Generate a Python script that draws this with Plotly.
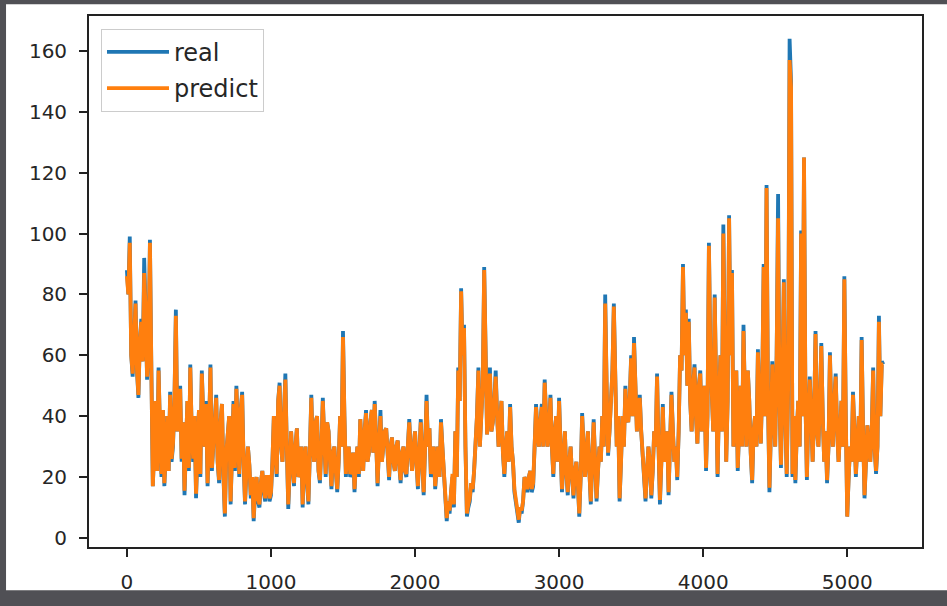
import plotly.graph_objects as go

# time step of each sample (every 10th step)
time_index = list(range(0, 5260, 10))

real = [
    88, 80, 99, 60, 53, 70, 78, 55, 46, 65, 72, 58, 92, 75, 52, 62, 98, 55, 17, 30, 45, 22, 56, 35, 20, 42, 17, 28, 40, 22,
    48, 25, 30, 45, 75, 35, 40, 50, 25, 38, 14, 30, 45, 22, 57, 35, 25, 40, 13, 28, 42, 20, 55, 40, 30, 45, 17, 35, 57, 22,
    30, 40, 47, 25, 18, 38, 44, 20, 7, 28, 35, 40, 11, 25, 45, 22, 50, 35, 20, 42, 48, 25, 11, 22, 30, 24, 13, 20, 5.5, 15,
    20, 12, 10, 18, 22, 15, 12, 20, 20, 12, 14, 25, 40, 28, 20, 45, 51, 30, 25, 40, 54, 30, 9.5, 22, 35, 25, 17, 30, 36, 20,
    22, 30, 10, 25, 30, 18, 11, 28, 47, 30, 25, 38, 40, 22, 18, 30, 46, 32, 20, 38, 35, 25, 16, 28, 30, 22, 15, 25, 40, 30,
    68, 40, 20, 28, 30, 20, 22, 28, 15, 25, 30, 20, 39, 30, 22, 35, 42, 25, 28, 38, 42, 28, 45, 32, 17, 30, 42, 25, 30, 35,
    36, 28, 19, 30, 33, 25, 22, 30, 32, 24, 18, 28, 30, 22, 20, 30, 39, 28, 22, 30, 35, 25, 16, 28, 39, 25, 14, 30, 47, 30,
    36, 20, 25, 30, 16, 25, 30, 20, 39, 30, 20, 10, 5.5, 12, 8, 15, 20, 10, 35, 20, 56, 45, 82, 60, 70, 30, 7, 10, 12, 18,
    15, 22, 30, 40, 56, 30, 40, 50, 89, 55, 34, 45, 56, 35, 38, 45, 55, 40, 30, 38, 45, 28, 20, 30, 35, 25, 44, 30, 25, 15,
    12, 8, 5, 10, 8, 12, 20, 18, 15, 20, 22, 15, 17, 30, 44, 35, 30, 38, 44, 30, 52, 40, 30, 35, 47, 30, 20, 35, 40, 25,
    46, 30, 15, 25, 35, 22, 14, 25, 30, 20, 13, 22, 25, 18, 7, 20, 41, 30, 20, 28, 35, 22, 11, 25, 39, 25, 12, 22, 30, 25,
    40, 30, 80, 50, 27, 35, 45, 55, 77, 50, 30, 40, 12, 25, 40, 30, 50, 40, 38, 45, 60, 40, 66, 50, 35, 40, 47, 35, 28, 20,
    12, 22, 30, 25, 13, 22, 35, 30, 54, 30, 11, 25, 44, 25, 30, 35, 14, 30, 48, 35, 25, 30, 19, 35, 60, 55, 90, 60, 75, 50,
    72, 45, 35, 50, 57, 40, 31, 50, 55, 35, 40, 50, 22, 40, 97, 60, 45, 35, 80, 40, 20, 45, 60, 35, 103, 60, 25, 45, 106, 60,
    88, 30, 40, 55, 22, 35, 50, 30, 70, 45, 30, 55, 45, 28, 18, 35, 40, 30, 62, 45, 31, 50, 90, 40, 116, 45, 15, 35, 58, 40,
    30, 60, 113, 45, 23, 50, 85, 40, 20, 50, 164, 150, 20, 40, 18, 35, 45, 30, 101, 40, 125, 45, 19, 40, 53, 40, 25, 40, 68, 35,
    30, 45, 64, 40, 25, 35, 18, 30, 61, 40, 30, 45, 54, 35, 25, 35, 45, 30, 86, 40, 7, 20, 30, 25, 48, 35, 20, 30, 40, 25,
    66, 35, 13, 25, 37, 30, 25, 35, 56, 30, 21, 30, 73, 40, 58, 57,
]

predict = [
    86, 80, 97, 60, 54, 70, 77, 55, 47, 65, 71, 58, 87, 75, 53, 62, 97, 55, 17, 30, 45, 22, 55, 35, 21, 42, 18, 28, 40, 22,
    47, 26, 31, 45, 73, 35, 40, 49, 26, 38, 15.5, 30, 45, 23, 56, 35, 26, 40, 14.5, 28, 42, 21, 54, 40, 30, 44, 18, 35, 56, 23,
    30, 40, 46, 25, 19, 38, 44, 21, 8, 28, 35, 40, 12, 25, 44, 23, 49, 35, 21, 42, 47, 25, 12, 22, 30, 24, 14, 20, 6.5, 16,
    20, 13, 11, 18, 22, 16, 13, 20, 20, 13, 15, 25, 40, 28, 21, 45, 50, 30, 25, 40, 52, 30, 11, 22, 35, 25, 18, 30, 36, 20,
    22, 30, 11, 25, 30, 19, 12, 28, 46, 30, 25, 38, 40, 22, 19, 30, 45, 32, 21, 38, 35, 25, 17, 28, 30, 22, 16, 25, 40, 30,
    66, 40, 21, 28, 30, 21, 22, 28, 16, 25, 30, 21, 39, 30, 22, 35, 41, 25, 28, 38, 42, 28, 44, 32, 18, 30, 40, 25, 30, 35,
    36, 28, 20, 30, 33, 25, 22, 30, 32, 24, 19, 28, 30, 22, 21, 30, 38, 28, 22, 30, 35, 25, 17, 28, 38, 25, 15, 30, 45, 30,
    36, 21, 25, 30, 17, 25, 30, 20, 38, 30, 20, 11, 6.5, 12, 9, 15, 21, 11, 35, 20, 55, 45, 81, 60, 69, 30, 8, 11, 13, 18,
    16, 22, 30, 40, 55, 30, 40, 50, 88, 55, 34, 45, 54, 35, 38, 45, 53, 40, 30, 38, 45, 28, 21, 30, 35, 25, 43, 30, 25, 16,
    13, 9, 6, 10, 9, 12, 20, 18, 16, 20, 22, 16, 18, 30, 43, 35, 30, 38, 43, 30, 51, 40, 30, 35, 46, 30, 21, 35, 40, 25,
    45, 30, 16, 25, 35, 22, 15, 25, 30, 20, 14, 22, 25, 18, 8, 20, 40, 30, 20, 28, 35, 22, 12, 25, 38, 25, 13, 22, 30, 25,
    40, 30, 77, 50, 28, 35, 45, 55, 76, 50, 30, 40, 13, 25, 40, 30, 49, 40, 38, 45, 59, 40, 64, 50, 35, 40, 46, 35, 28, 21,
    13, 22, 30, 25, 14, 22, 35, 30, 53, 30, 12.5, 25, 43, 25, 30, 35, 15, 30, 47, 35, 25, 30, 20, 35, 60, 55, 89, 60, 74, 50,
    71, 45, 35, 50, 56, 40, 31, 50, 54, 35, 40, 50, 23, 40, 96, 60, 45, 35, 79, 40, 21, 45, 60, 35, 100, 60, 25, 45, 105, 60,
    87, 30, 40, 55, 23, 35, 50, 30, 68, 45, 30, 55, 45, 28, 19, 35, 40, 30, 61, 45, 31, 50, 89, 40, 115, 45, 16.5, 35, 57, 40,
    30, 60, 105, 45, 24, 50, 84, 40, 21, 50, 157, 148, 21, 40, 19, 35, 45, 30, 100, 40, 125, 45, 20, 40, 52, 40, 25, 40, 67, 35,
    30, 45, 63, 40, 25, 35, 19, 30, 60, 40, 30, 45, 53, 35, 25, 35, 45, 30, 85, 40, 7, 20, 30, 25, 47, 35, 21, 30, 40, 25,
    65, 35, 14, 25, 37, 30, 25, 35, 55, 30, 22, 30, 71, 40, 57, 57,
]

x_ticks = [0, 1000, 2000, 3000, 4000, 5000]
y_ticks = [0, 20, 40, 60, 80, 100, 120, 140, 160]

FONT = "DejaVu Sans"

fig = go.Figure()
fig.add_trace(go.Scatter(
    x=time_index, y=real, mode="lines", name="real",
    line=dict(color="#1f77b4", width=3.8), legendgroup="a",
))
fig.add_trace(go.Scatter(
    x=time_index, y=predict, mode="lines", name="predict",
    line=dict(color="#ff7f0e", width=3.8), legendgroup="b",
))

axis_common = dict(
    showgrid=False, zeroline=False, showline=True, mirror=True,
    linecolor="#222222", linewidth=1.8,
    ticks="outside", ticklen=8, tickwidth=1.5, tickcolor="#222222",
    tickfont=dict(family=FONT, size=20, color="#262626"),
)

fig.update_layout(
    width=947, height=606,
    margin=dict(l=89, r=25, t=16, b=50),
    paper_bgcolor="#505055",
    plot_bgcolor="white",
    font=dict(family=FONT),
    xaxis=dict(range=[-263, 5519], tickvals=x_ticks, ticklabelstandoff=8, **axis_common),
    yaxis=dict(range=[-3.0, 171.5], tickvals=y_ticks, ticklabelstandoff=8, **axis_common),
    legend=dict(
        x=0.0144, y=0.976, xanchor="left", yanchor="top",
        bgcolor="rgba(255,255,255,0.85)", bordercolor="#cccccc", borderwidth=1,
        font=dict(family=FONT, size=24, color="#262626"),
        traceorder="grouped", tracegroupgap=2, itemwidth=62,
    ),
    shapes=[dict(
        type="rect", xref="paper", yref="paper",
        x0=-0.0996, x1=1.1, y0=-0.0815, y1=1.0222,
        fillcolor="white", line=dict(width=0), layer="below",
    )],
    showlegend=True,
)

fig.write_html(
    "out.html",
    config={"displayModeBar": False},
    post_script="document.body.style.margin='0';document.body.style.overflow='hidden';",
)
